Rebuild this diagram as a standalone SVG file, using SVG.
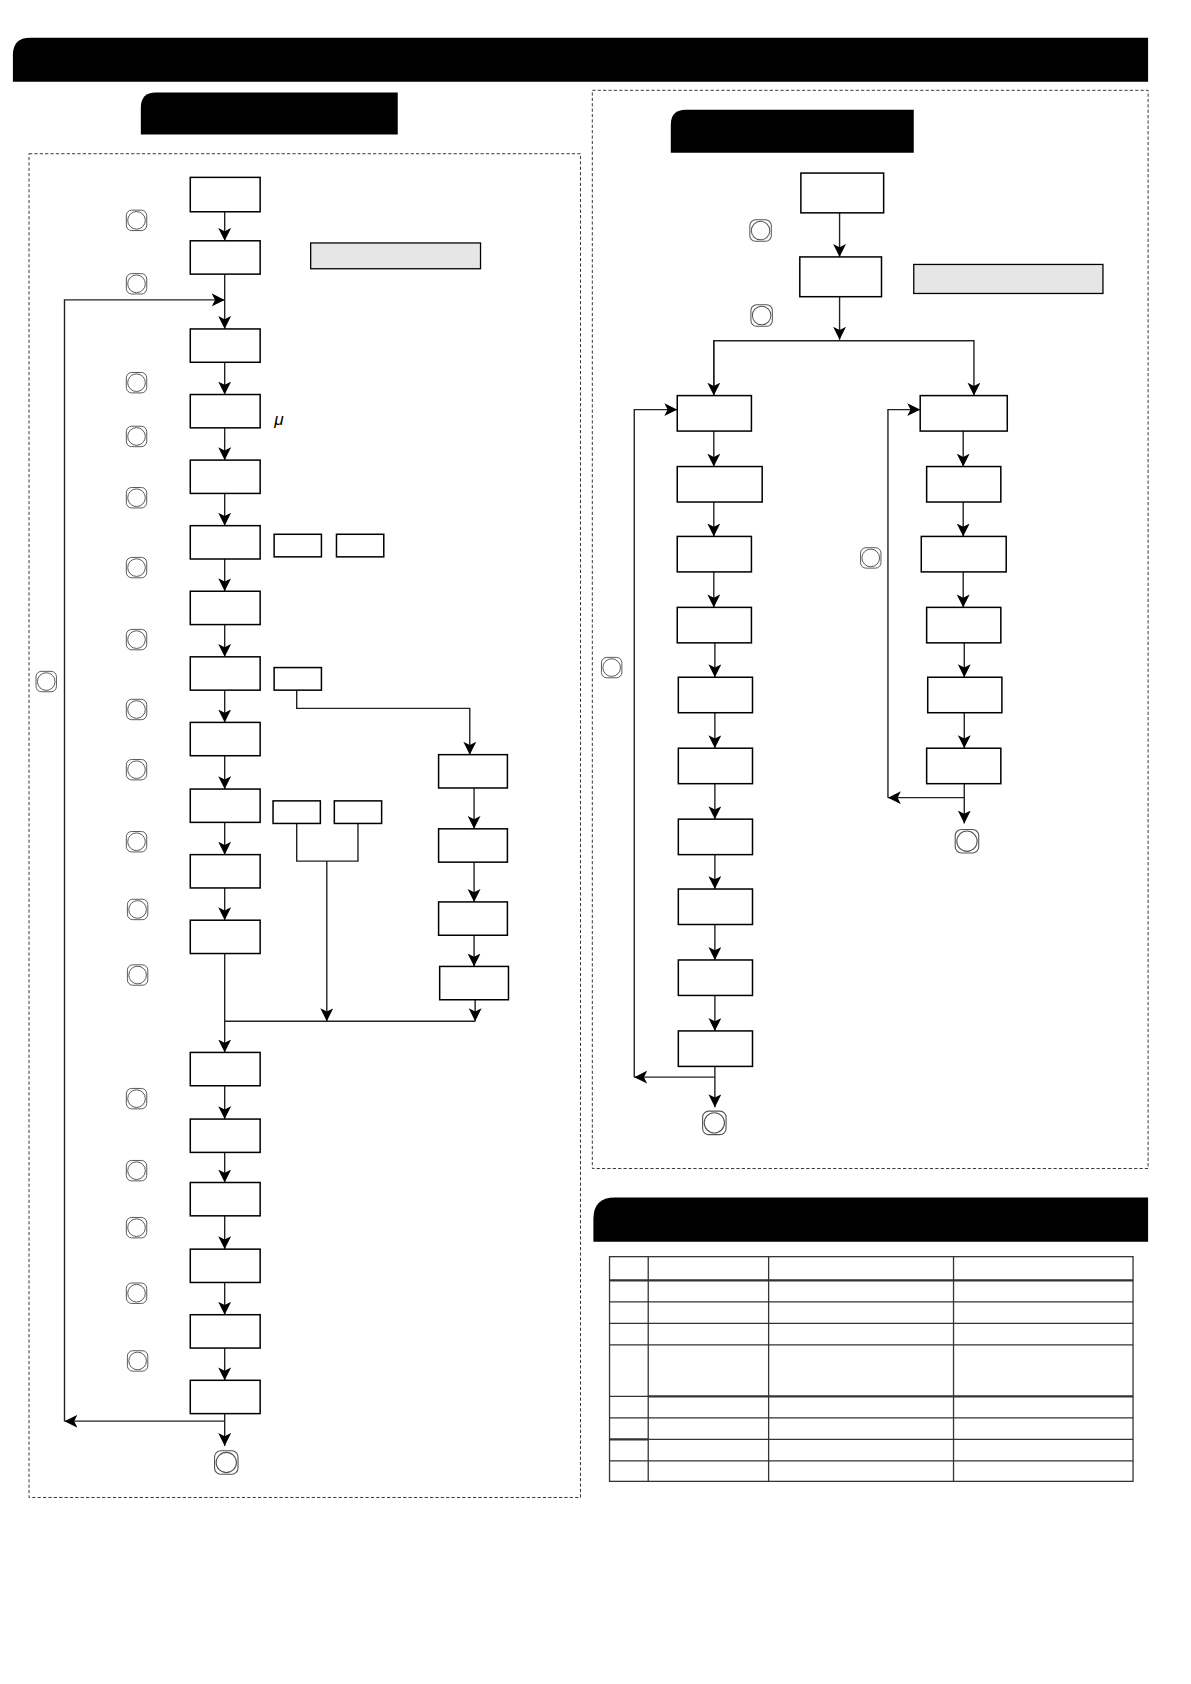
<svg xmlns="http://www.w3.org/2000/svg" width="1191" height="1684" viewBox="0 0 1191 1684">
<style>
.n{fill:#fff;stroke:#000;stroke-width:1.4}
.g{fill:#e6e6e6;stroke:#000;stroke-width:1.2}
.c{fill:none;stroke:#222;stroke-width:1.3}
.d{fill:none;stroke:#333;stroke-width:0.9;stroke-dasharray:3 2}
.t{fill:none;stroke:#333;stroke-width:1.2}
.tk{fill:none;stroke:#333;stroke-width:2.2}
.k{fill:#000}
</style>
<defs>
<marker id="a" markerUnits="userSpaceOnUse" markerWidth="12" markerHeight="14" refX="12" refY="6" orient="auto"><path d="M0,0 L12,6 L0,12 L3,6 Z" fill="#000"/></marker>
<symbol id="btn" viewBox="0 0 20 20" overflow="visible"><rect x="0.5" y="0.5" width="19" height="19" rx="5" fill="#fff" stroke="#555" stroke-width="0.9"/><circle cx="10" cy="10" r="8.2" fill="none" stroke="#555" stroke-width="0.9"/></symbol>
</defs>
<rect width="1191" height="1684" fill="#fff"/>
<g transform="scale(1.075)">
<g id="headers">
<path class="k" d="M28,35 H1068 V76 H12 V51 Q12,35 28,35 Z"/>
<path class="k" d="M145,86 H370 V125 H131 V100 Q131,86 145,86 Z"/>
<path class="k" d="M638,102 H850 V142 H624 V116 Q624,102 638,102 Z"/>
<path class="k" d="M572,1114 H1068 V1155 H552 V1134 Q552,1114 572,1114 Z"/>
</g>
<rect class="d" x="27" y="143" width="513" height="1250"/>
<rect class="d" x="551" y="84" width="517" height="1003"/>

<g id="connectors" class="c">
<path d="M209,197 V224" marker-end="url(#a)"/>
<path d="M209,255 V306" marker-end="url(#a)"/>
<path d="M60,1322 V279 H209" marker-end="url(#a)"/>
<path d="M209,337 V367" marker-end="url(#a)"/>
<path d="M209,398 V428" marker-end="url(#a)"/>
<path d="M209,459 V489" marker-end="url(#a)"/>
<path d="M209,520 V550" marker-end="url(#a)"/>
<path d="M209,581 V611" marker-end="url(#a)"/>
<path d="M209,642 V672" marker-end="url(#a)"/>
<path d="M209,703 V734" marker-end="url(#a)"/>
<path d="M209,765 V795" marker-end="url(#a)"/>
<path d="M209,826 V856" marker-end="url(#a)"/>
<path d="M209,887 V979" marker-end="url(#a)"/>
<path d="M209,950 H442"/>
<path d="M276,642 V659 H437 V702" marker-end="url(#a)"/>
<path d="M441,733 V771" marker-end="url(#a)"/>
<path d="M441,802 V839" marker-end="url(#a)"/>
<path d="M441,870 V899" marker-end="url(#a)"/>
<path d="M442,930 V950" marker-end="url(#a)"/>
<path d="M276,766 V801 H333 V766"/>
<path d="M304,801 V950" marker-end="url(#a)"/>
<path d="M209,1010 V1041" marker-end="url(#a)"/>
<path d="M209,1072 V1100" marker-end="url(#a)"/>
<path d="M209,1131 V1162" marker-end="url(#a)"/>
<path d="M209,1193 V1223" marker-end="url(#a)"/>
<path d="M209,1254 V1284" marker-end="url(#a)"/>
<path d="M209,1315 V1345" marker-end="url(#a)"/>
<path d="M209,1322 H60" marker-end="url(#a)"/>

<path d="M781,198 V239" marker-end="url(#a)"/>
<path d="M781,276 V316" marker-end="url(#a)"/>
<path d="M664,368 V317 H906 V368" marker-end="url(#a)"/>
<path d="M664,317 V368" marker-end="url(#a)"/>
<path d="M664,401 V434" marker-end="url(#a)"/>
<path d="M664,467 V499" marker-end="url(#a)"/>
<path d="M664,532 V565" marker-end="url(#a)"/>
<path d="M665,598 V630" marker-end="url(#a)"/>
<path d="M665,663 V696" marker-end="url(#a)"/>
<path d="M665,729 V762" marker-end="url(#a)"/>
<path d="M665,795 V827" marker-end="url(#a)"/>
<path d="M665,860 V893" marker-end="url(#a)"/>
<path d="M665,926 V959" marker-end="url(#a)"/>
<path d="M665,992 V1030" marker-end="url(#a)"/>
<path d="M665,1002 H590" marker-end="url(#a)"/>
<path d="M590,1002 V381 H630" marker-end="url(#a)"/>
<path d="M896,401 V434" marker-end="url(#a)"/>
<path d="M896,467 V499" marker-end="url(#a)"/>
<path d="M896,532 V565" marker-end="url(#a)"/>
<path d="M897,598 V630" marker-end="url(#a)"/>
<path d="M897,663 V696" marker-end="url(#a)"/>
<path d="M897,729 V766" marker-end="url(#a)"/>
<path d="M897,742 H826" marker-end="url(#a)"/>
<path d="M826,742 V381 H856" marker-end="url(#a)"/>
</g>

<g id="left-nodes">
<rect id="L1" class="n" x="177" y="165" width="65" height="32"/>
<rect id="L2" class="n" x="177" y="224" width="65" height="31"/>
<rect id="L3" class="n" x="177" y="306" width="65" height="31"/>
<rect id="L4" class="n" x="177" y="367" width="65" height="31"/>
<rect id="L5" class="n" x="177" y="428" width="65" height="31"/>
<rect id="L6" class="n" x="177" y="489" width="65" height="31"/>
<rect id="L7" class="n" x="177" y="550" width="65" height="31"/>
<rect id="L8" class="n" x="177" y="611" width="65" height="31"/>
<rect id="L9" class="n" x="177" y="672" width="65" height="31"/>
<rect id="L10" class="n" x="177" y="734" width="65" height="31"/>
<rect id="L11" class="n" x="177" y="795" width="65" height="31"/>
<rect id="L12" class="n" x="177" y="856" width="65" height="31"/>
<rect id="L13" class="n" x="177" y="979" width="65" height="31"/>
<rect id="L14" class="n" x="177" y="1041" width="65" height="31"/>
<rect id="L15" class="n" x="177" y="1100" width="65" height="31"/>
<rect id="L16" class="n" x="177" y="1162" width="65" height="31"/>
<rect id="L17" class="n" x="177" y="1223" width="65" height="31"/>
<rect id="L18" class="n" x="177" y="1284" width="65" height="31"/>
<rect id="Lg" class="g" x="289" y="226" width="158" height="24"/>
<rect id="S6a" class="n" x="255" y="497" width="44" height="21"/>
<rect id="S6b" class="n" x="313" y="497" width="44" height="21"/>
<rect id="S8" class="n" x="255" y="621" width="44" height="21"/>
<rect id="S10a" class="n" x="254" y="745" width="44" height="21"/>
<rect id="S10b" class="n" x="311" y="745" width="44" height="21"/>
<rect id="R1" class="n" x="408" y="702" width="64" height="31"/>
<rect id="R2" class="n" x="408" y="771" width="64" height="31"/>
<rect id="R3" class="n" x="408" y="839" width="64" height="31"/>
<rect id="R4" class="n" x="409" y="899" width="64" height="31"/>
<text x="255" y="395" font-family="Liberation Sans, sans-serif" font-size="16" font-style="italic">μ</text>
</g>

<g id="right-nodes">
<rect id="A" class="n" x="745" y="161" width="77" height="37"/>
<rect id="B" class="n" x="744" y="239" width="76" height="37"/>
<rect id="Bg" class="g" x="850" y="246" width="176" height="27"/>
<rect class="n" x="630" y="368" width="69" height="33"/>
<rect class="n" x="630" y="434" width="79" height="33"/>
<rect class="n" x="630" y="499" width="69" height="33"/>
<rect class="n" x="630" y="565" width="69" height="33"/>
<rect class="n" x="631" y="630" width="69" height="33"/>
<rect class="n" x="631" y="696" width="69" height="33"/>
<rect class="n" x="631" y="762" width="69" height="33"/>
<rect class="n" x="631" y="827" width="69" height="33"/>
<rect class="n" x="631" y="893" width="69" height="33"/>
<rect class="n" x="631" y="959" width="69" height="33"/>
<rect class="n" x="856" y="368" width="81" height="33"/>
<rect class="n" x="862" y="434" width="69" height="33"/>
<rect class="n" x="857" y="499" width="79" height="33"/>
<rect class="n" x="862" y="565" width="69" height="33"/>
<rect class="n" x="863" y="630" width="69" height="33"/>
<rect class="n" x="862" y="696" width="69" height="33"/>
</g>

<g id="buttons">
<use href="#btn" x="117" y="195" width="20" height="20"/>
<use href="#btn" x="117" y="254" width="20" height="20"/>
<use href="#btn" x="117" y="346" width="20" height="20"/>
<use href="#btn" x="117" y="396" width="20" height="20"/>
<use href="#btn" x="117" y="453" width="20" height="20"/>
<use href="#btn" x="117" y="518" width="20" height="20"/>
<use href="#btn" x="117" y="585" width="20" height="20"/>
<use href="#btn" x="117" y="650" width="20" height="20"/>
<use href="#btn" x="117" y="706" width="20" height="20"/>
<use href="#btn" x="117" y="773" width="20" height="20"/>
<use href="#btn" x="118" y="836" width="20" height="20"/>
<use href="#btn" x="118" y="897" width="20" height="20"/>
<use href="#btn" x="117" y="1012" width="20" height="20"/>
<use href="#btn" x="117" y="1079" width="20" height="20"/>
<use href="#btn" x="117" y="1132" width="20" height="20"/>
<use href="#btn" x="117" y="1193" width="20" height="20"/>
<use href="#btn" x="118" y="1256" width="20" height="20"/>
<use href="#btn" x="33" y="624" width="20" height="20"/>
<use href="#btn" x="199" y="1349" width="23" height="23"/>
<use href="#btn" x="697" y="204" width="21" height="21"/>
<use href="#btn" x="698" y="283" width="21" height="21"/>
<use href="#btn" x="559" y="611" width="20" height="20"/>
<use href="#btn" x="800" y="509" width="20" height="20"/>
<use href="#btn" x="888" y="771" width="23" height="23"/>
<use href="#btn" x="653" y="1033" width="23" height="23"/>
</g>

<g id="table">
<rect class="t" x="567" y="1169" width="487" height="209"/>
<path class="t" d="M603,1169 V1378 M715,1169 V1378 M887,1169 V1378"/>
<path class="tk" d="M567,1191 H1054 M603,1299 H1054 M567,1339 H603"/>
<path class="t" d="M567,1211 H1054 M567,1231 H1054 M567,1251 H1054 M567,1299 H603 M567,1319 H1054 M603,1339 H1054 M567,1359 H1054"/>
</g>
</g>
</svg>
